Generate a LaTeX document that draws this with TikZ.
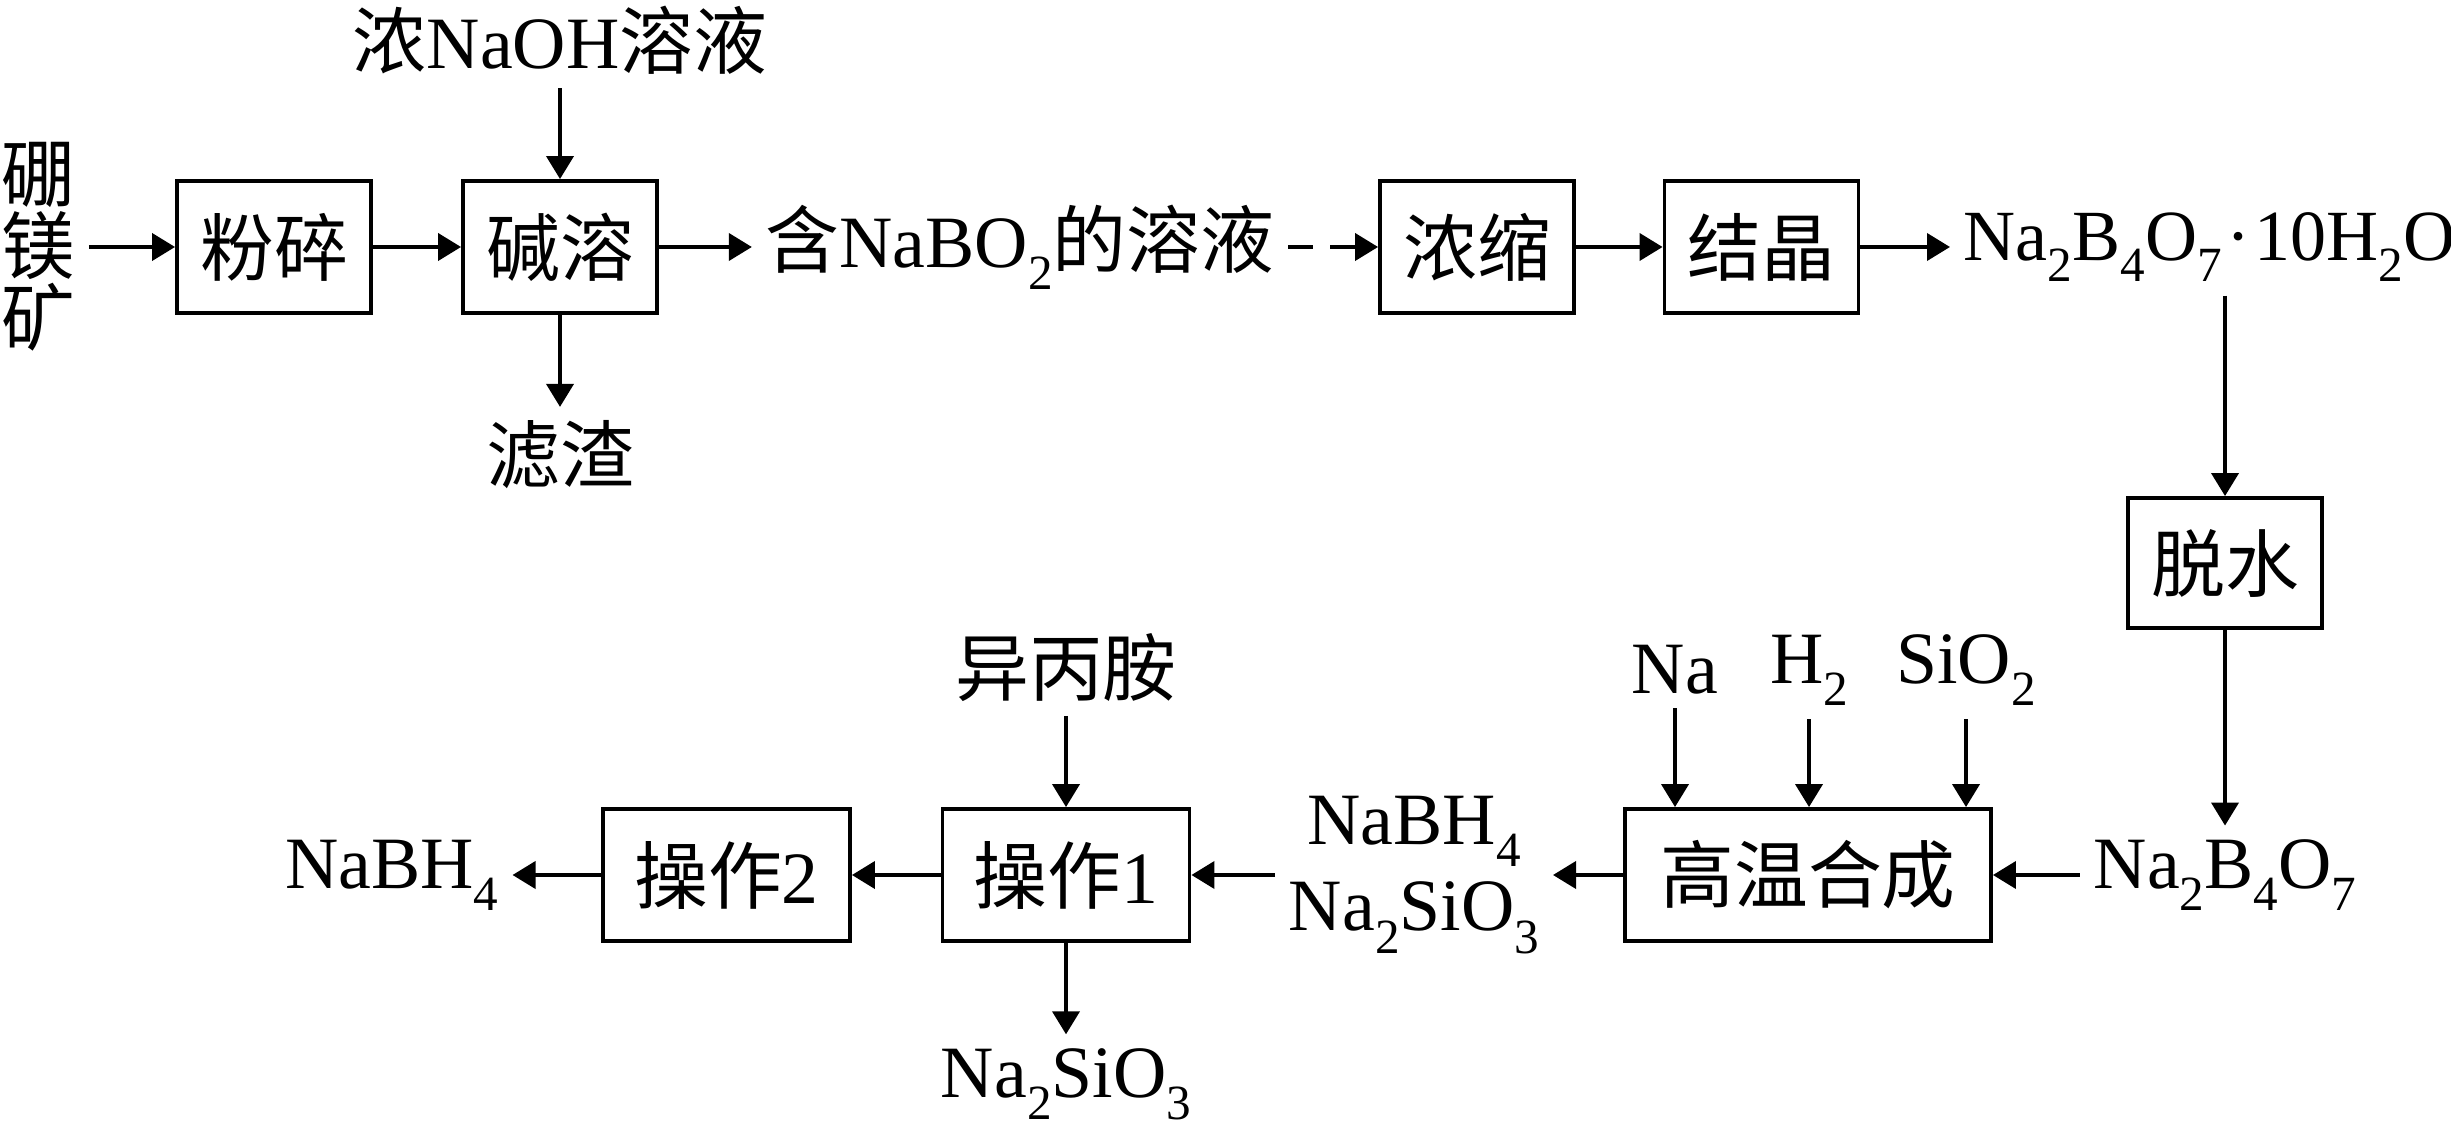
\documentclass[tikz,border=0pt]{standalone}
\usepackage{fontspec}
\setmainfont{Liberation Serif}
\newfontfamily\cjk{Noto Sans CJK SC}
\usetikzlibrary{arrows.meta}
\newcommand{\zh}[1]{{\cjk #1}}
\newcommand{\sub}[1]{\raisebox{-0.3em}{\fontsize{14}{14}\selectfont #1}}
\begin{document}
\begin{tikzpicture}[line width=1.1pt,>={Triangle[length=0.23cm,width=0.27cm]}]
        \tikzstyle{every node}=[font=\fontsize{21}{25}\selectfont,inner sep=0.12cm];
        \tikzstyle{stepbox}=[draw,minimum height=1.32cm,minimum width=1.94cm,inner sep=0pt];
        \useasboundingbox (0,0) rectangle (24.51,-11.41);
        % top row
        \node (ore) at (0.38,-2.47) [align=center,font=\fontsize{21}{20.5}\selectfont] {\zh{硼}\\\zh{镁}\\\zh{矿}};
        \node[stepbox] (fensui) at (2.74,-2.47) {\zh{粉碎}};
        \node[stepbox] (jianrong) at (5.60,-2.47) {\zh{碱溶}};
        \node (naoh) at (5.60,-0.40) {\zh{浓}NaOH\zh{溶液}};
        \node (lvzha) at (5.60,-4.55) {\zh{滤渣}};
        \node (nabo) at (10.20,-2.47) {\zh{含}NaBO\sub{2}\zh{的溶液}};
        \node[stepbox] (nongsuo) at (14.77,-2.47) {\zh{浓缩}};
        \node[stepbox] (jiejing) at (17.615,-2.47) {\zh{结晶}};
        \node[anchor=west,font=\fontsize{20.5}{25}\selectfont] (boraxten) at (19.50,-2.47) {Na\sub{2}B\sub{4}O\sub{7}\kern0.06em·\kern0.06em10H\sub{2}O};
        % right column
        \node[stepbox,minimum height=1.30cm] (tuoshui) at (22.25,-5.63) {\zh{脱水}};
        \node (borax) at (22.25,-8.75) {Na\sub{2}B\sub{4}O\sub{7}};
        % bottom row
        \node[stepbox,minimum width=3.66cm] (gaowen) at (18.08,-8.75) {\zh{高温合成}};
        \node (na) at (16.75,-6.70) {Na};
        \node (htwo) at (18.09,-6.70) {H\sub{2}};
        \node (sio) at (19.66,-6.70) {SiO\sub{2}};
        \node (mix) at (14.14,-8.75) [align=center,font=\fontsize{21}{24.5}\selectfont] {NaBH\sub{4}\\Na\sub{2}SiO\sub{3}};
        \node[stepbox,minimum width=2.47cm] (caozuoa) at (10.66,-8.75) {\zh{操作}1};
        \node[stepbox,minimum width=2.47cm] (caozuob) at (7.265,-8.75) {\zh{操作}2};
        \node (ipa) at (10.66,-6.68) {\zh{异丙胺}};
        \node (nasio) at (10.66,-10.84) {Na\sub{2}SiO\sub{3}};
        \node (nabh) at (3.92,-8.75) {NaBH\sub{4}};
        \draw[->] (ore) -- (fensui);
        \draw[->] (fensui) -- (jianrong);
        \draw[->] (naoh) -- (jianrong);
        \draw[->] (jianrong) -- (lvzha);
        \draw[->] (jianrong) -- (nabo);
        \draw[->,dash pattern=on 0.25cm off 0.17cm] (nabo) -- (nongsuo);
        \draw[->] (nongsuo) -- (jiejing);
        \draw[->] (jiejing) -- (boraxten);
        \draw[->] (boraxten.south -| tuoshui) -- (tuoshui);
        \draw[->] (tuoshui) -- (borax);
        \draw[->] (borax) -- (gaowen);
        \draw[->] (na) -- (na |- gaowen.north);
        \draw[->] (htwo) -- (htwo |- gaowen.north);
        \draw[->] (sio) -- (sio |- gaowen.north);
        \draw[->] (gaowen) -- (mix);
        \draw[->] (mix) -- (caozuoa);
        \draw[->] (ipa) -- (caozuoa);
        \draw[->] (caozuoa) -- (nasio);
        \draw[->] (caozuoa) -- (caozuob);
        \draw[->] (caozuob) -- (nabh);
\end{tikzpicture}
\end{document}
